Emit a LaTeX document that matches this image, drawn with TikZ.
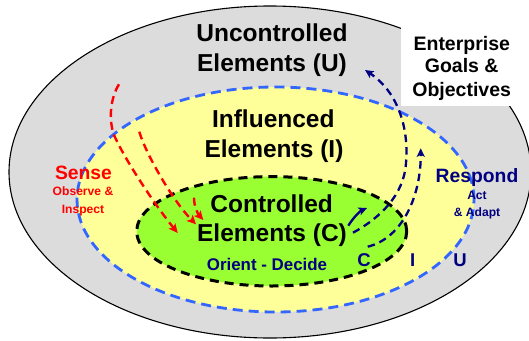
\documentclass[tikz,border=0pt]{standalone}
\usepackage{fontspec}
\setmainfont{Liberation Sans}
\usetikzlibrary{arrows.meta}
\definecolor{ugray}{HTML}{DCDCDC}
\definecolor{iyellow}{HTML}{FFFF99}
\definecolor{cgreen}{HTML}{99FF33}
\definecolor{dblue}{HTML}{3366FF}
\definecolor{navyc}{HTML}{000080}
\definecolor{redc}{HTML}{FF0000}
\tikzset{
  bigtxt/.style={font=\fontsize{24.5}{30}\selectfont\bfseries, anchor=base, inner sep=0pt},
  goaltxt/.style={font=\fontsize{19.5}{24}\selectfont\bfseries, anchor=base, inner sep=0pt},
  headtxt/.style={font=\fontsize{19.3}{24}\selectfont\bfseries, anchor=base, inner sep=0pt},
  subtxt/.style={font=\fontsize{12.1}{15}\selectfont\bfseries, anchor=base, inner sep=0pt},
  odtxt/.style={font=\fontsize{16.9}{20}\selectfont\bfseries, anchor=base, inner sep=0pt, text=navyc},
  lvltxt/.style={font=\fontsize{18.5}{22}\selectfont\bfseries, anchor=base, inner sep=0pt, text=navyc},
  redarrow/.style={draw=redc, line width=2.4pt, dash pattern=on 8pt off 5pt,
    -{Stealth[length=9pt,width=8.5pt,inset=2pt]}},
  navyarrow/.style={draw=navyc, line width=2.3pt, dash pattern=on 7.5pt off 5pt,
    -{Stealth[length=8.5pt,width=8pt,inset=2pt]}},
  navysolid/.style={draw=navyc, line width=2.3pt,
    -{Stealth[length=8.5pt,width=8pt,inset=2pt]}},
}
\begin{document}
\begin{tikzpicture}[x=1pt,y=-1pt]
  \useasboundingbox (0,0) rectangle (529,340);
  \clip (0,0) rectangle (529,340);
  % outer ellipse (Uncontrolled)
  \fill[ugray] (270,172) ellipse [x radius=261pt, y radius=166pt];
  \draw[black, line width=1.1pt] (270,172) ellipse [x radius=261pt, y radius=166pt];
  % enterprise box
  \fill[white] (401,-5) rectangle (535,106);
  % influenced ellipse
  \filldraw[fill=iyellow, draw=dblue, line width=2.8pt, dash pattern=on 10pt off 6pt]
    (275.5,199.5) ellipse [x radius=198.5pt, y radius=112.5pt];
  % controlled ellipse
  \filldraw[fill=cgreen, draw=black, line width=3pt, dash pattern=on 9pt off 6pt]
    (271.7,231.3) ellipse [x radius=135pt, y radius=54.7pt];

  % texts
  \node[bigtxt] (u1) at (272,41.7) {Uncontrolled};
  \node[bigtxt] (u2) at (272,71.7) {Elements (U)};
  \node[bigtxt] (i1) at (273.3,127) {Influenced};
  \node[bigtxt] (i2) at (274,157) {Elements (I)};
  \node[bigtxt] (c1) at (271.7,212.5) {Controlled};
  \node[bigtxt] (c2) at (272,241.5) {Elements (C)};
  \node[odtxt] (od) at (267,270) {Orient - Decide};

  \node[goaltxt] (g1) at (461.8,50) {Enterprise};
  \node[goaltxt] (g2) at (461.7,72.5) {Goals \&};
  \node[goaltxt] (g3) at (461.7,96) {Objectives};

  \node[headtxt, text=redc] (se) at (83.5,179) {Sense};
  \node[subtxt, text=redc] (se1) at (83,195.5) {Observe \&};
  \node[subtxt, text=redc] (se2) at (83,213.5) {Inspect};

  \node[headtxt, text=navyc] (re) at (477,182) {Respond};
  \node[subtxt, text=navyc] (re1) at (477,199.4) {Act};
  \node[subtxt, text=navyc] (re2) at (477,216.4) {\& Adapt};

  \node[lvltxt] (lc) at (364,266.6) {C};
  \node[lvltxt] (li) at (412.7,266.6) {I};
  \node[lvltxt] (lu) at (460,266.6) {U};

  % red sense arrows
  \coordinate (r1s) at (119,84.3);
  \coordinate (r1m) at (114,135);
  \coordinate (r1e) at (177.7,233);
  \coordinate (r2s) at (139.3,131.7);
  \coordinate (r2e) at (196,224.3);
  \coordinate (r3s) at (194,197.7);
  \coordinate (r3e) at (203.3,220);
  \draw[redarrow] (r1s) .. controls (111,97) and (108,118) .. (r1m)
    .. controls (125,160) and (155,205) .. (r1e);
  \draw[redarrow] (r2s) .. controls (145,152) and (172,200) .. (r2e);
  \draw[redarrow] (r3s) .. controls (194,207) and (198,214) .. (r3e);

  % navy respond arrows
  \coordinate (n1s) at (353,232.7);
  \coordinate (n1m) at (406,163);
  \coordinate (n1e) at (365,70);
  \coordinate (n2s) at (367.7,246.7);
  \coordinate (n2e) at (420.7,148.3);
  \coordinate (n3s) at (348.3,225.7);
  \coordinate (n3e) at (367,208);
  \draw[navyarrow] (n1s) .. controls (380,218) and (404,195) .. (n1m)
    .. controls (409,128) and (398,92) .. (n1e);
  \draw[navyarrow] (n2s) .. controls (403,238) and (421,195) .. (n2e);
  \draw[navysolid] (n3s) .. controls (353,218) and (360,211) .. (n3e);
\end{tikzpicture}
\end{document}
